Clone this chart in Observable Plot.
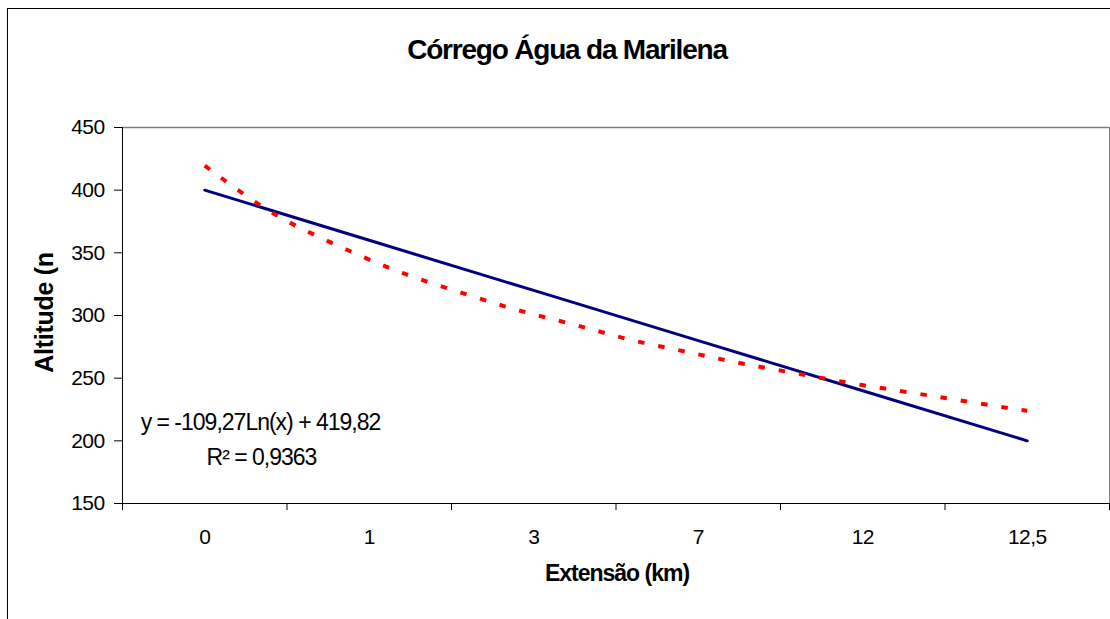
<!DOCTYPE html>
<html><head><meta charset="utf-8">
<script src="https://cdn.jsdelivr.net/npm/d3@7"></script>
<script src="https://cdn.jsdelivr.net/npm/@observablehq/plot@0.6"></script>
<style>
body{margin:0;background:#fff;font-family:"Liberation Sans",Arial,sans-serif;}
#frame{position:absolute;left:7px;top:8px;width:1200px;height:700px;border-left:1px solid #000;border-top:1px solid #000;}
#wrap{position:absolute;left:0;top:0;width:1110px;}
#title{height:100px;line-height:100px;text-align:center;font-weight:bold;font-size:28px;letter-spacing:-1.2px;color:#000;padding-left:24px;box-sizing:border-box;}
.tight text{letter-spacing:-1px;}
.ticks text{letter-spacing:-0.6px;}
.ylab text{letter-spacing:-0.3px;}
</style></head><body>
<div id="frame"></div>
<div id="wrap"><div id="title">Córrego Água da Marilena</div><div id="chart"></div></div>
<script>
const categories = ["0","1","3","7","12","12,5"];
const altitude = [400,360,320,280,240,200];
// trend line (logarithmic), position in category units
const trendPos = [1.00,1.22,1.45,1.69,1.93,2.16,2.39,2.64,2.87,3.11,3.35,3.58,3.82,4.05,4.28,4.52,4.76,4.99,5.24,5.47,5.70,5.93,6.00];
const trendAlt = [419.6,398,378,362.8,348.4,335.6,325.2,314.8,305.2,297.2,289.2,280.4,274,267.6,261.2,255.6,250,244.4,239.6,234.8,230,225.2,224];
const yTicks = [150,200,250,300,350,400,450];
const equationText = "y = -109,27Ln(x) + 419,82";
const r2Text = "R² = 0,9363";

const idx = categories.map((_, i) => i + 1);
const data = categories.map((c, i) => ({pos: i + 1, alt: altitude[i]}));
const trend = trendPos.map((p, i) => ({pos: p, alt: trendAlt[i]}));
const boundaries = d3.range(0.5, categories.length + 1, 1);

const chart = Plot.plot({
  width: 1110, height: 519,
  marginTop: 27, marginBottom: 116, marginLeft: 122, marginRight: 1,
  style: {fontFamily: "'Liberation Sans', Arial, sans-serif", fontSize: "21px", color: "#000", background: "transparent"},
  x: {type: "linear", domain: [0.5, categories.length + 0.5]},
  y: {domain: [150, 450]},
  marks: [
    Plot.ruleY([450], {stroke: "#808080", strokeWidth: 1.5}),
    Plot.ruleX([categories.length + 0.5], {stroke: "#808080", strokeWidth: 1}),
    Plot.axisY({ticks: yTicks, tickSize: 8, tickPadding: 10, label: null, stroke: "#000", fontSize: 21, className: "ticks"}),
    Plot.ruleX([0.5], {stroke: "#000", strokeWidth: 1}),
    Plot.ruleY([150], {stroke: "#000", strokeWidth: 1.2}),
    Plot.axisX({ticks: boundaries, tickSize: 7, tickFormat: () => "", label: null, stroke: "#000"}),
    Plot.axisX({ticks: idx, tickSize: 0, tickPadding: 26, tickFormat: d => categories[d - 1], label: null, fontSize: 21, className: "ticks"}),
    Plot.line(data, {x: "pos", y: "alt", stroke: "#000080", strokeWidth: 3}),
    Plot.line(trend, {x: "pos", y: "alt", stroke: "#ff0000", strokeWidth: 4, strokeDasharray: "6.5,14", strokeLinecap: "butt", curve: "basis"}),
    Plot.text(["Altitude (n"], {text: d => d, frameAnchor: "left", textAnchor: "middle", dx: -78, dy: -3, rotate: -90, fontWeight: "bold", fontSize: 25, className: "ylab"}),
    Plot.text(["Extensão (km)"], {text: d => d, frameAnchor: "bottom", dx: 1, dy: 77, fontWeight: "bold", fontSize: 23, className: "tight"}),
    Plot.text([equationText], {text: d => d, frameAnchor: "bottom-left", textAnchor: "middle", dx: 138, dy: -74, fontSize: 23, className: "tight"}),
    Plot.text([r2Text], {text: d => d, frameAnchor: "bottom-left", textAnchor: "middle", dx: 139, dy: -39, fontSize: 23, className: "tight"})
  ]
});
document.getElementById("chart").appendChild(chart);
</script>
</body></html>
